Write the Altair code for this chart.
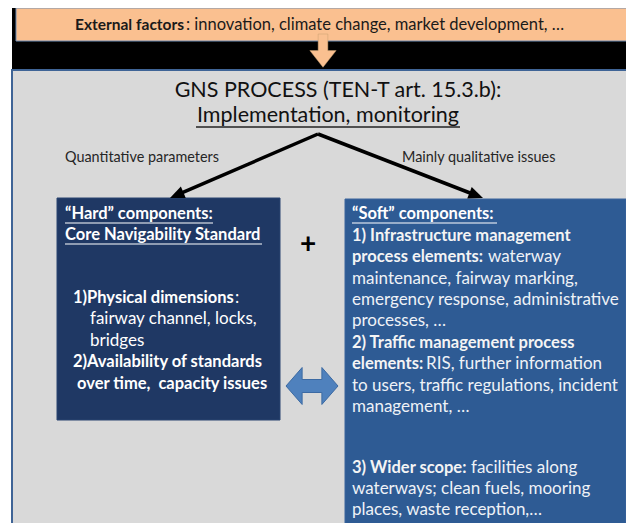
import math
import altair as alt
import pandas as pd

# ---------------- content ----------------
top_bold = "External factors"
top_rest = ": innovation, climate change, market development, …"
title_lines = ["GNS PROCESS (TEN-T art. 15.3.b):", "Implementation, monitoring"]
branch_labels = ["Quantitative parameters", "Mainly qualitative issues"]
hard_heading = ["“Hard” components:", "Core Navigability Standard"]
hard_lines = [  # (bold part, regular part)
    ("1)Physical dimensions", ":"),
    ("", "fairway channel, locks,"),
    ("", "bridges"),
    ("2)Availability of standards", ""),
    ("over time,\u00a0 capacity issues", ""),
]
soft_heading = "“Soft” components:"
soft_lines = [  # (bold part, regular part)
    ("1) Infrastructure management", ""),
    ("process elements:", "waterway"),
    ("", "maintenance, fairway marking,"),
    ("", "emergency response, administrative"),
    ("", "processes, …"),
    ("2) Traffic management process", ""),
    ("elements:", "RIS, further information"),
    ("", "to users, traffic regulations, incident"),
    ("", "management, …"),
    ("3) Wider scope:", "facilities along"),
    ("", "waterways; clean fuels, mooring"),
    ("", "places, waste reception,…"),
]
plus_sign = "+"

# ---------------- layout (reference pixel space) ----------------
FONT = "Lato"
BOLD_FS, REG_FS = 16.5, 17
boxes = pd.DataFrame([
    dict(x=12, x2=628, y=7, y2=72, fill="#000000", stroke="#000000", sw=0),
    dict(x=16, x2=628, y=8, y2=41, fill="#FAC090", stroke="#6F8FB8", sw=1),
    dict(x=12, x2=628, y=70, y2=527, fill="#D9D9D9", stroke="#3F6496", sw=2),
    dict(x=57, x2=280, y=198, y2=420, fill="#1F3864", stroke="#2A4470", sw=1),
    dict(x=345, x2=626, y=199, y2=527, fill="#2E5B94", stroke="#3A659C", sw=1),
])

hard_x_bold = [73, 0, 0, 73, 77]
hard_x_reg = [235, 90, 90, 0, 0]
hard_y = [298, 319, 341, 362, 384]
soft_x_bold = 352
soft_x_reg = [0, 488, 352, 352, 352, 0, 426, 352, 352, 471, 352, 352]
soft_y = [236, 257, 279, 300, 321, 343, 364, 386, 407, 468, 489, 510]

rows = []
def add(x, y, text, weight, size, color, align="left"):
    if text:
        rows.append(dict(x=x, y=y, label=text, weight=weight, fsize=size, col=color, align=align))

add(75, 25, top_bold, "bold", 15.5, "#1A1A1A")
add(186, 25, top_rest, "normal", 16.5, "#1A1A1A")
add(338, 91, title_lines[0], "normal", 21.5, "#111111", "center")
add(328, 116, title_lines[1], "normal", 21.5, "#111111", "center")
add(65, 158, branch_labels[0], "normal", 14.4, "#262626")
add(402, 158, branch_labels[1], "normal", 14.4, "#262626")
add(65, 214, hard_heading[0], "bold", BOLD_FS, "#FFFFFF")
add(65, 235, hard_heading[1], "bold", BOLD_FS, "#FFFFFF")
for (b, r), xb, xr, y in zip(hard_lines, hard_x_bold, hard_x_reg, hard_y):
    add(xb, y, b, "bold", BOLD_FS, "#FFFFFF")
    add(xr, y, r, "normal", REG_FS, "#FFFFFF")
add(352, 214, soft_heading, "bold", BOLD_FS, "#FFFFFF")
for (b, r), xr, y in zip(soft_lines, soft_x_reg, soft_y):
    add(soft_x_bold, y, b, "bold", BOLD_FS, "#F4F4F4")
    add(xr, y, r, "normal", REG_FS, "#EEF2F7")
add(308, 245, plus_sign, "bold", 28, "#000000", "center")
texts = pd.DataFrame(rows)

underlines = pd.DataFrame([
    dict(x=196, x2=460, y=127, col="#222222", w=1.5),
    dict(x=65, x2=213, y=223, col="#FFFFFF", w=1.2),
    dict(x=65, x2=262, y=244, col="#FFFFFF", w=1.2),
    dict(x=352, x2=497, y=223, col="#FFFFFF", w=1.2),
])

# branching arrows: start (apex) and tips
apex = (318, 134)
tips = [(170, 198), (483, 198)]
shafts, heads = [], []
for tx, ty in tips:
    dx, dy = tx - apex[0], ty - apex[1]
    L = math.hypot(dx, dy)
    ux, uy = dx / L, dy / L
    shafts.append(dict(x=apex[0], y=apex[1], x2=tx - ux * 9, y2=ty - uy * 9))
    ang = math.degrees(math.atan2(ux, -uy)) % 360
    heads.append(dict(x=tx, y=ty, angle=ang))
shafts = pd.DataFrame(shafts)
heads = pd.DataFrame(heads)

down_arrow = pd.DataFrame([dict(x=323, y=52)])
double_arrow = pd.DataFrame([dict(x=312, y=386)])

# ---------------- scales ----------------
W, H = 618, 515
xs = alt.Scale(domain=[8, 8 + W], range=[0, W], nice=False, zero=False)
ys = alt.Scale(domain=[8, 8 + H], range=[0, H], nice=False, zero=False)

def X(f="x"):
    return alt.X(f"{f}:Q", scale=xs, axis=None)

def Y(f="y"):
    return alt.Y(f"{f}:Q", scale=ys, axis=None)

rect_layer = alt.Chart(boxes).mark_rect().encode(
    x=X(), x2="x2:Q", y=Y(), y2="y2:Q",
    fill=alt.Fill("fill:N", scale=None),
    stroke=alt.Stroke("stroke:N", scale=None),
    strokeWidth=alt.StrokeWidth("sw:Q", scale=None),
)

down_path = "M-0.35,-1.3 L0.35,-1.3 L0.35,-0.1 L0.95,-0.1 L0,1.1 L-0.95,-0.1 L-0.35,-0.1 Z"
down_layer = alt.Chart(down_arrow).mark_point(
    shape=down_path, size=765, filled=True, fill="#FAC090",
    stroke="#C8A070", strokeWidth=0.5, opacity=1,
).encode(x=X(), y=Y())

dbl_path = ("M-1,0 L-0.38,-0.71 L-0.38,-0.25 L0.38,-0.25 L0.38,-0.71 L1,0 "
            "L0.38,0.71 L0.38,0.25 L-0.38,0.25 L-0.38,0.71 Z")
dbl_layer = alt.Chart(double_arrow).mark_point(
    shape=dbl_path, size=52 ** 2, filled=True, fill="#4F81BD",
    stroke="#3C6AA3", strokeWidth=1, opacity=1,
).encode(x=X(), y=Y())

shaft_layer = alt.Chart(shafts).mark_rule(color="#000000", strokeWidth=3.5).encode(
    x=X(), y=Y(), x2="x2:Q", y2="y2:Q")

head_path = "M0,0 L0.62,1.45 L-0.62,1.45 Z"
head_layer = alt.Chart(heads).mark_point(
    shape=head_path, size=20 ** 2, filled=True, fill="#000000", opacity=1, strokeWidth=0,
).encode(x=X(), y=Y(), angle=alt.Angle("angle:Q", scale=None))

ul_layers = []
for (c, w), sub in underlines.groupby(["col", "w"]):
    ul_layers.append(
        alt.Chart(sub).mark_rule(color=c, strokeWidth=float(w)).encode(
            x=X(), x2="x2:Q", y=Y())
    )

text_layers = []
for (weight, align, fs, c), sub in texts.groupby(["weight", "align", "fsize", "col"]):
    text_layers.append(
        alt.Chart(sub).mark_text(
            font=FONT, fontWeight=weight, align=align, baseline="middle",
            fontSize=float(fs), color=c,
        ).encode(x=X(), y=Y(), text="label:N")
    )

chart = alt.layer(
    rect_layer, down_layer, shaft_layer, head_layer, dbl_layer, *ul_layers, *text_layers
).properties(
    width=W, height=H, padding=0, autosize=alt.AutoSizeParams(type="none"),
    background="#FFFFFF",
).configure_view(stroke=None)

chart.save("out.html", embed_options={"renderer": "svg", "actions": False})
